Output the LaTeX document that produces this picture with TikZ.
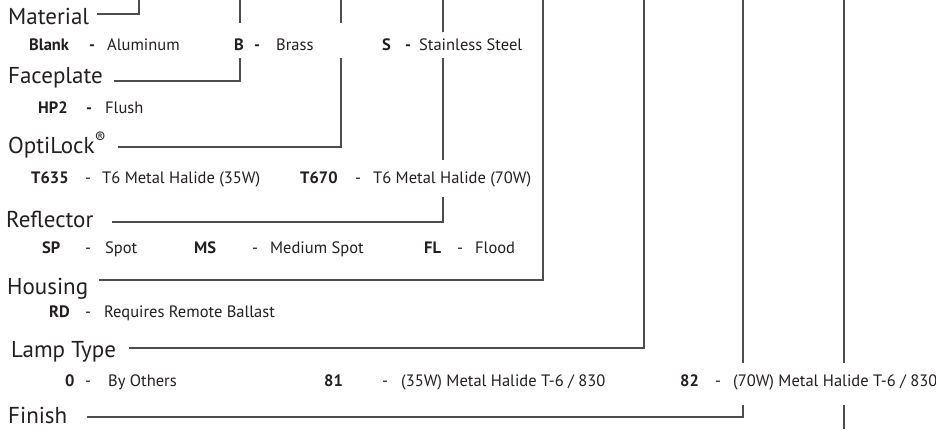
\documentclass[tikz,border=0pt]{standalone}
\usepackage{fontspec}
\setmainfont{PT Sans}
\definecolor{ink}{HTML}{231F20}
\definecolor{rulegray}{HTML}{4D4D4F}

\begin{document}
\begin{tikzpicture}[x=1pt,y=-1pt,
  head/.style={anchor=base west,inner sep=0pt,font=\fontsize{23}{26}\selectfont,text=ink},
  opt/.style={anchor=base west,inner xsep=2pt,inner ysep=0pt,fill=white,font=\fontsize{16.5}{19}\selectfont,text=ink},
  lead/.style={draw=rulegray,line width=1.4pt}]
\useasboundingbox (0,0) rectangle (936,429);

% tops of the leader lines
\foreach \k/\x in {1/139,2/240,3/341,4/443,5/543,6/644,7/743,8/844}
  \coordinate (t\k) at (\x,0);
\coordinate (b8) at (844,429);

% headings
\foreach \i/\x/\y/\t in {1/8/24/Material,2/8/83/Faceplate,3/8/153/OptiLock\textsuperscript{®},4/6/227/Reflector,5/7/294/Housing,6/11/357/Lamp Type,7/8/423/Finish}
  \node[head] (h\i) at (\x,\y) {\t};

% leader lines, heading -> top
\foreach \i/\gap/\dy in {1/8/10,2/11/2,3/11/6,4/18/5,5/11/14,6/13/9,7/20/6}
  \draw[lead] ([xshift=\gap pt,yshift=\dy pt]h\i.base east) -| (t\i);
\draw[lead] (t8) -- (b8);

% option codes (white boxes break the lines they cross)
\foreach \x/\y/\c/\cw/\dw/\dsh/\d/\ww/\th/\td [count=\j] in {
  27/50/Blank/60/18/\textbf{-}/Aluminum/80/18/8,
  232/50/B/20/22/\textbf{-}/Brass/106/27/8,
  380/50/S/23/14/\textbf{-}/Stainless Steel/106/18/8,
  36/113/HP2/48/19/\textbf{-}/Flush/40/13/4,
  29/183/T635/54/17/-/T6 Metal Halide (35W)/162/23/14,
  298/183/T670/55/18/-/T6 Metal Halide (70W)/160/23/14,
  40/253/SP/43/20/-/Spot/35/13/4,
  192/253/MS/58/18/-/Medium Spot/100/13/4,
  422/253/FL/33/18/-/Flood/40/13/4,
  47/317/RD/36/19/-/Requires Remote Ballast/175/13/4,
  63/386/0/20/23/-/By Others/70/23/19,
  322/386/81/58/19/-/{(35W) Metal Halide T-6 / 830}/205/23/19,
  678/386/82/35/18/-/{(70W) Metal Halide T-6 / 830}/203/23/19}
  \node[opt,text height=\th pt,text depth=\td pt] (o\j) at (\x,\y)
    {\makebox[\cw pt][l]{\textbf{\c}}\makebox[\dw pt][l]{\dsh}\makebox[\ww pt][l]{\d}};
\end{tikzpicture}
\end{document}
